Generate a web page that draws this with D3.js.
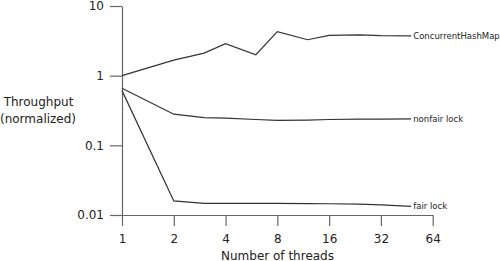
<!DOCTYPE html>
<html>
<head>
<meta charset="utf-8">
<script src="https://cdn.jsdelivr.net/npm/d3@7"></script>
<style>
  html, body { margin: 0; padding: 0; background: #fff; }
  svg { display: block; font-family: "DejaVu Sans", sans-serif; }
</style>
</head>
<body>
<svg class="chart" width="500" height="261"></svg>
<script>
// thread counts measured
const threads = [1, 2, 3, 4, 6, 8, 12, 16, 24, 32, 48];

// throughput, normalized to single thread
const concurrentHashMap = [1.0, 1.67, 2.11, 2.87, 2.0, 4.28, 3.28, 3.79, 3.86, 3.75, 3.72];
const nonfairLock = [0.66, 0.28, 0.25, 0.245, 0.235, 0.228, 0.23, 0.235, 0.238, 0.238, 0.24];
const fairLock = [0.61, 0.0159, 0.0147, 0.0147, 0.0147, 0.0147, 0.0146, 0.0145, 0.0143, 0.014, 0.0133];

const seriesNames = ["ConcurrentHashMap", "nonfair lock", "fair lock"];
const xTicks = [1, 2, 4, 8, 16, 32, 64];
const yTicks = [0.01, 0.1, 1, 10];
const yTickLabels = ["0.01", "0.1", "1", "10"];

const svg = d3.select(".chart");

const x = d3.scaleLog().base(2).domain([1, 64]).range([122, 432.7]);
const y = d3.scaleLog().domain([0.01, 10]).range([215, 6]);

const axisColor = "#666";
const lineColor = "#333";

// y axis
const yAxis = svg
  .append("g")
  .attr("transform", "translate(122,0)")
  .call(
    d3.axisLeft(y)
      .tickValues(yTicks)
      .tickFormat((d, i) => yTickLabels[i])
      .tickSize(12)
      .tickSizeOuter(0)
      .tickPadding(6)
  );

// x axis
const xAxis = svg
  .append("g")
  .attr("transform", "translate(0,215)")
  .call(
    d3.axisBottom(x)
      .tickValues(xTicks)
      .tickFormat(d3.format("d"))
      .tickSize(11)
      .tickSizeOuter(0)
      .tickPadding(8.5)
  );

[xAxis, yAxis].forEach((g) => {
  g.selectAll("path, line").attr("stroke", axisColor).attr("stroke-width", 1.2);
  g.selectAll("text")
    .attr("fill", "#222")
    .style("font-family", '"DejaVu Sans", sans-serif')
    .style("font-size", "12px");
});

// axis titles
svg
  .append("text")
  .attr("x", 277.5)
  .attr("y", 259.5)
  .attr("text-anchor", "middle")
  .attr("fill", "#222")
  .style("font-size", "12px")
  .text("Number of threads");

const yTitle = svg
  .append("text")
  .attr("text-anchor", "middle")
  .attr("fill", "#222")
  .style("font-size", "12px");
yTitle.append("tspan").attr("x", 38.5).attr("y", 105.5).text("Throughput");
yTitle.append("tspan").attr("x", 38).attr("y", 123).text("(normalized)");

// series lines
const series = [concurrentHashMap, nonfairLock, fairLock];
const line = d3
  .line()
  .x((d, i) => x(threads[i]))
  .y((d) => y(d));

series.forEach((values, k) => {
  svg
    .append("path")
    .datum(values)
    .attr("d", line)
    .attr("fill", "none")
    .attr("stroke", lineColor)
    .attr("stroke-width", 1.2);

  // end label
  const last = values.length - 1;
  svg
    .append("text")
    .attr("x", x(threads[last]) + 2)
    .attr("y", y(values[last]))
    .attr("dy", "0.35em")
    .attr("fill", "#222")
    .style("font-size", "8.5px")
    .text(seriesNames[k]);
});
</script>
</body>
</html>
